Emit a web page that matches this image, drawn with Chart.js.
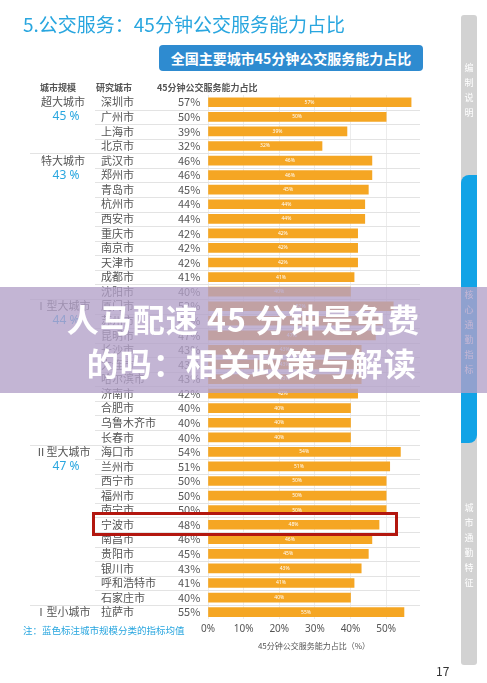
<!DOCTYPE html>
<html><head><meta charset="utf-8">
<script src="https://cdn.jsdelivr.net/npm/chart.js@4"></script>
<style>
body{margin:0;width:487px;height:683px;position:relative;background:#fff;font-family:"Noto Sans CJK SC","Noto Sans",sans-serif;overflow:hidden}
#c{position:absolute;left:0;top:0}
.abs{position:absolute}
</style></head><body>
<canvas id="c" width="487" height="683"></canvas>
<div class="abs" style="left:23px;top:10px;font-size:19px;color:#29a6df">5.公交服务：45分钟公交服务能力占比</div>
<div class="abs" style="left:159px;top:45px;width:264px;height:26px;background:#2e8bd0;border-radius:4px;color:#fff;font-weight:bold;font-size:14px;line-height:26px;text-align:center">全国主要城市45分钟公交服务能力占比</div>
<div class="abs" style="left:461px;top:15px;width:16px;height:650px;background:#d2d2d2;border-radius:3px"></div>
<div class="abs" style="left:461px;top:175px;width:16px;height:268px;background:#12a3e6;border-radius:8px 0 8px 0"></div>
<div class="abs" style="left:462px;top:60px;width:14px;font-size:9px;color:#fff;text-align:center;line-height:15px">编<br>制<br>说<br>明</div>
<div class="abs" style="left:462px;top:287px;width:14px;font-size:9px;color:#fff;text-align:center;line-height:15px">核<br>心<br>通<br>勤<br>指<br>标</div>
<div class="abs" style="left:462px;top:500px;width:14px;font-size:9px;color:#fff;text-align:center;line-height:15px">城<br>市<br>通<br>勤<br>特<br>征</div>
<div class="abs" style="left:436px;top:662px;font-size:12px;color:#333">17</div>
<div class="abs" style="left:92px;top:512px;width:300px;height:18px;border:3px solid #b3170f"></div>
<div class="abs" style="left:0;top:287px;width:487px;height:106px;background:rgba(178,160,200,0.78)"></div>
<div class="abs" style="left:0;top:296px;width:487px;text-align:center;font-size:32px;font-weight:bold;color:#fff;line-height:44px;letter-spacing:1px">人马配速 45 分钟是免费<br>&nbsp;&nbsp;的吗：相关政策与解读</div>
<script>
const cities = ["深圳市","广州市","上海市","北京市","武汉市","郑州市","青岛市","杭州市","西安市","重庆市","南京市","天津市","成都市","沈阳市",
  "厦门市","苏州市","昆明市","长沙市","大连市","哈尔滨市","济南市","合肥市","乌鲁木齐市","长春市",
  "海口市","兰州市","西宁市","福州市","南宁市","宁波市","南昌市","贵阳市","银川市","呼和浩特市","石家庄市","拉萨市"];
const values = [57,50,39,32,46,46,45,44,44,42,42,42,41,40,
  52,49,47,43,43,43,42,40,40,40,
  54,51,50,50,50,48,46,45,43,41,40,55];
const groups = [["超大城市","45 %",0],["特大城市","43 %",4],["Ⅰ型大城市","44 %",14],["Ⅱ型大城市","47 %",24],["Ⅰ型小城市","",35]];
const xTicks = [0,10,20,30,40,50];

const tablePlugin = {
  id: "table",
  beforeDatasetsDraw(chart) {
    const {ctx, scales: {x, y}, chartArea} = chart;
    const h = y.getPixelForValue(1) - y.getPixelForValue(0);
    const starts = groups.map(g => g[2]);
    ctx.save();
    ctx.strokeStyle = "#e3e3e3"; ctx.lineWidth = 1;
    for (let i = 1; i < cities.length; i++) {
      const py = Math.round(y.getPixelForValue(i) - h / 2) + 0.5;
      ctx.beginPath(); ctx.moveTo(starts.includes(i) ? 30 : 95, py); ctx.lineTo(chartArea.right, py); ctx.stroke();
    }
    ctx.textBaseline = "middle";
    ctx.font = "11px 'Noto Sans CJK SC'"; ctx.fillStyle = "#555";
    cities.forEach((c, i) => {
      const py = y.getPixelForValue(i);
      ctx.textAlign = "left"; ctx.fillText(c, 101, py);
      ctx.fillText(values[i] + "%", 178, py);
    });
    ctx.textAlign = "center";
    groups.forEach(g => {
      ctx.font = "11px 'Noto Sans CJK SC'"; ctx.fillStyle = "#555";
      ctx.fillText(g[0], 63, y.getPixelForValue(g[2]));
      ctx.font = "12px 'Noto Sans'"; ctx.fillStyle = "#29a6df";
      if (g[1]) ctx.fillText(g[1], 66, y.getPixelForValue(g[2] + 1));
    });
    ctx.font = "bold 9px 'Noto Sans CJK SC'"; ctx.fillStyle = "#555";
    ctx.textAlign = "left";
    ctx.fillText("城市规模", 40, 88); ctx.fillText("研究城市", 96, 88); ctx.fillText("45分钟公交服务能力占比", 157, 88);
    ctx.font = "9.5px 'Noto Sans CJK SC'"; ctx.fillStyle = "#29a6df";
    ctx.fillText("注：蓝色标注城市规模分类的指标均值", 23, 630);
    ctx.restore();
  },
  afterDatasetsDraw(chart) {
    const {ctx, scales: {x, y}} = chart;
    ctx.save();
    ctx.font = "5px 'Noto Sans'"; ctx.fillStyle = "#fff"; ctx.textAlign = "center"; ctx.textBaseline = "middle";
    values.forEach((v, i) => ctx.fillText(v + "%", (x.getPixelForValue(0) + x.getPixelForValue(v)) / 2, y.getPixelForValue(i)));
    ctx.restore();
  }
};

new Chart(document.getElementById("c"), {
  type: "bar",
  data: { labels: cities, datasets: [{ data: values, backgroundColor: "#f5a623", barThickness: 9 }] },
  options: {
    indexAxis: "y", responsive: false, animation: false,
    layout: { padding: { left: 208, right: 67, top: 95, bottom: 30 } },
    plugins: { legend: { display: false }, tooltip: { enabled: false } },
    scales: {
      y: { display: false },
      x: { min: 0, max: 59.5, border: { display: false },
        afterBuildTicks: s => { s.ticks = xTicks.map(v => ({ value: v })); },
        grid: { color: "#ececec", drawTicks: false },
        ticks: { padding: 4, color: "#555", font: { size: 10, family: "Noto Sans" }, callback: v => v + "%" },
        title: { display: true, text: "45分钟公交服务能力占比（%）", color: "#555", font: { size: 8, family: "Noto Sans CJK SC" }, padding: 2 } }
    }
  },
  plugins: [tablePlugin]
});
</script></body></html>
